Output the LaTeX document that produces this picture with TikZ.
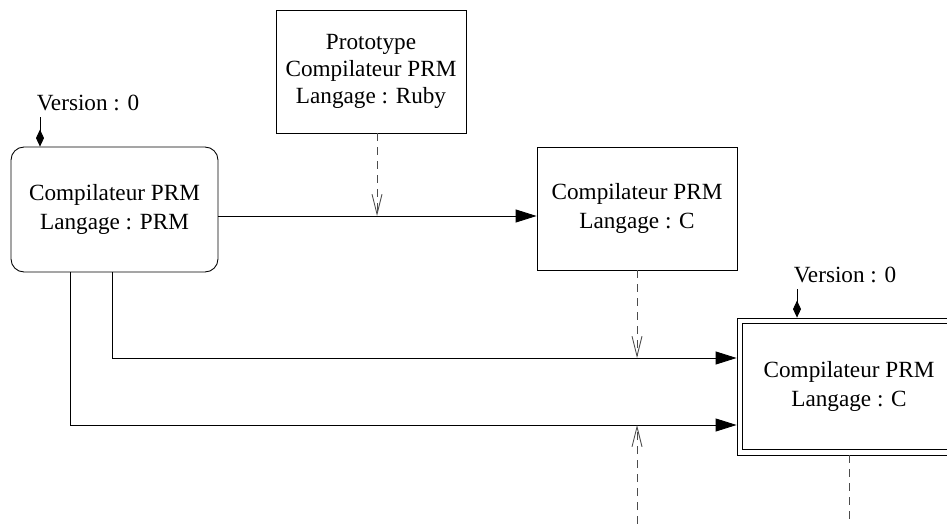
\documentclass[tikz,border=0pt]{standalone}
\usepackage{fontspec}
\setmainfont{Liberation Serif}
\usetikzlibrary{arrows.meta}

\begin{document}
\begin{tikzpicture}[x=0.02cm,y=-0.02cm,line width=0.5pt,
    every node/.style={font=\fontsize{13.2}{17}\selectfont},
    box/.style={draw,align=center,inner sep=0pt},
    uses/.style={-{Triangle[length=0.42cm,width=0.26cm]}},
    dashline/.style={draw=black!70,dash pattern=on 0.16cm off 0.12cm},
    dep/.style={dashline,-{Straight Barb[length=0.4cm,width=0.2cm]}},
    version/.style={-{Diamond[length=0.34cm,width=0.16cm]}}]
        \useasboundingbox (0,0) rectangle (947,524);
        \clip (0,0) rectangle (947,524);

        % compilers
        \node[box,rounded corners=0.26cm,minimum width=4.14cm,minimum height=2.5cm] (prm) at (114.5,209.5) {Compilateur PRM\\Langage : PRM};
        \node[box,minimum width=3.8cm,minimum height=2.46cm,font=\fontsize{13.2}{15.6}\selectfont] (proto) at (371,71.5) {Prototype\\Compilateur PRM\\Langage : Ruby};
        \node[box,minimum width=4cm,minimum height=2.46cm] (cc) at (637,208.5) {Compilateur PRM\\Langage : C};
        \node[box,minimum width=4.48cm,minimum height=2.74cm] (final) at (849,386.5) {Compilateur PRM\\Langage : C};
        \draw ([shift={(6,6)}]final.north west) rectangle ([shift={(-6,-6)}]final.south east);

        % versions
        \node (v1) at (88,103) {Version : 0};
        \node (v2) at (845,275) {Version : 0};
        \coordinate (v1s) at (40,117);
        \coordinate (v2s) at (797,289);
        \draw[version] (v1s) -- (v1s |- prm.north);
        \draw[version] (v2s) -- (v2s |- final.north);

        % rows and columns
        \coordinate (row1) at (0,216);
        \coordinate (row2) at (0,358);
        \coordinate (row3) at (0,425);
        \coordinate (col1) at (377,0);
        \coordinate (in1) at (112,0);
        \coordinate (in2) at (70,0);
        \coordinate (bot) at (637,524);

        \draw[uses] (prm.east |- row1) -- (cc.west |- row1);
        \draw[uses] (prm.south -| in1) |- (final.west |- row2);
        \draw[uses] (prm.south -| in2) |- (final.west |- row3);

        \draw[dep] (proto.south -| col1) -- (col1 |- row1);
        \draw[dep] (cc.south) -- (cc.south |- row2);
        \draw[dep] (bot) -- (bot |- row3);
        \draw[dashline] (final.south) -- (final.south |- bot);
    \end{tikzpicture}
\end{document}
